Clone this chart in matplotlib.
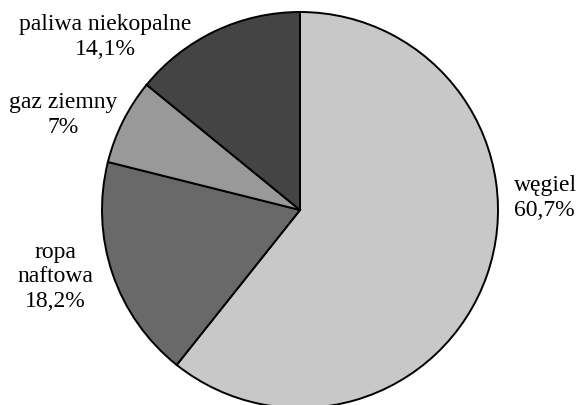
import matplotlib
matplotlib.use("Agg")
import matplotlib.pyplot as plt

# Energy sources share
categories = ["węgiel", "ropa\nnaftowa", "gaz ziemny", "paliwa niekopalne"]
shares = [60.7, 18.2, 7.0, 14.1]
share_labels = ["60,7%", "18,2%", "7%", "14,1%"]
colors = ["#c8c8c8", "#696969", "#999999", "#444444"]

plt.rcParams["font.family"] = ["Liberation Serif", "DejaVu Serif"]

fig = plt.figure(figsize=(5.79, 4.06), dpi=100)
ax = fig.add_axes([0, 0, 1, 1])

center = (300, 195)
radius = 198
ax.pie(shares, colors=colors, startangle=90, counterclock=False,
       center=center, radius=radius, frame=True,
       wedgeprops=dict(edgecolor="black", linewidth=1.4))
ax.set_xlim(0, 579)
ax.set_ylim(0, 406)
ax.set_aspect("equal")
ax.axis("off")

# label placement (x, y, horizontal alignment)
label_pos = [(514, 208, "left"), (55, 129, "center"), (63, 291, "center"), (105, 369, "center")]
for name, lab, (x, y, ha) in zip(categories, share_labels, label_pos):
    ax.text(x, y, f"{name}\n{lab}", ha=ha, va="center", fontsize=17,
            linespacing=1.2, multialignment=ha)

fig.savefig("out.png", dpi=100)
